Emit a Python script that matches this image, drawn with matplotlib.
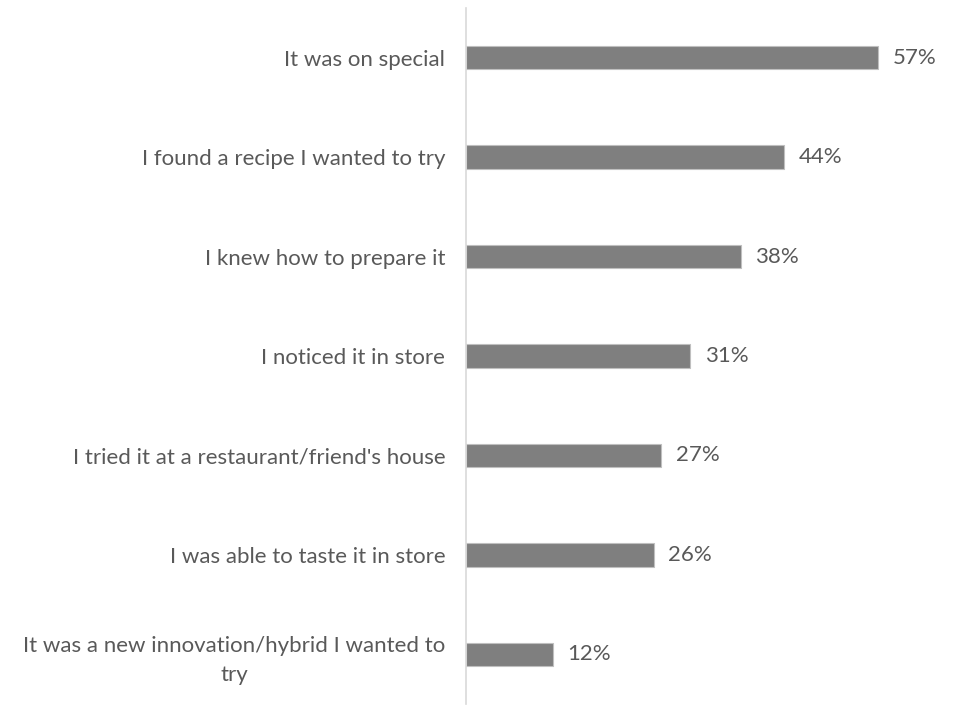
import matplotlib.pyplot as plt

# Data
reasons = [
    "It was on special",
    "I found a recipe I wanted to try",
    "I knew how to prepare it",
    "I noticed it in store",
    "I tried it at a restaurant/friend's house",
    "I was able to taste it in store",
    "It was a new innovation/hybrid I wanted to\ntry",
]
shares = [57, 44, 38, 31, 27, 26, 12]

text_color = "#595959"
plt.rcParams['font.family'] = ['Lato', 'DejaVu Sans']

fig = plt.figure(figsize=(9.64, 7.11), dpi=100)
ax = fig.add_axes([0.4834, 0.0098, 0.4649, 0.979])

y = list(range(len(reasons)))
ax.barh(y, shares, height=0.235, color="#7f7f7f", edgecolor="#bfbfbf", linewidth=0.8)

for yi, v in zip(y, shares):
    ax.text(v + 2, yi, f"{v}%", va="center", ha="left", fontsize=16, color=text_color)

ax.set_xlim(0, 62)
ax.set_ylim(len(reasons) - 0.5, -0.5)
ax.set_yticks(y)
ax.set_yticklabels(reasons, fontsize=16, color=text_color,
                   multialignment="center", linespacing=1.55)
ax.tick_params(axis="y", length=0, pad=15)
ax.set_xticks([])

for side in ["top", "right", "bottom"]:
    ax.spines[side].set_visible(False)
ax.spines["left"].set_color("#d9d9d9")
ax.spines["left"].set_linewidth(1.2)

fig.savefig("out.png", dpi=100)
